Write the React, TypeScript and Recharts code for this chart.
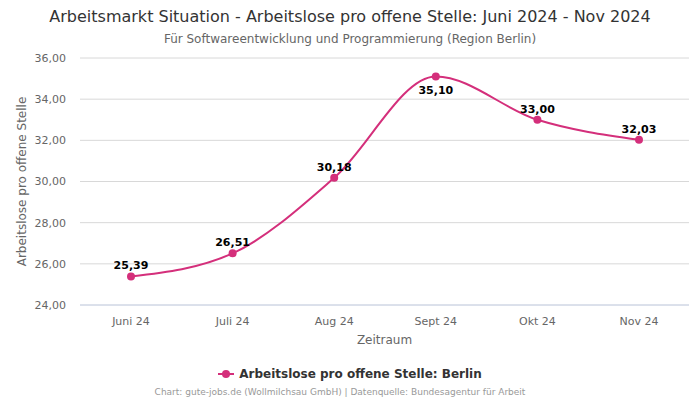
import { LineChart, Line, XAxis, YAxis, CartesianGrid, LabelList } from 'recharts'

const months = ['Juni 24', 'Juli 24', 'Aug 24', 'Sept 24', 'Okt 24', 'Nov 24']
const berlin = [25.39, 26.51, 30.18, 35.1, 33.0, 32.03]
const yTicks = [24, 26, 28, 30, 32, 34, 36]

const LINE = '#d42f7b'
const FONT = '"DejaVu Sans", sans-serif'

const data = months.map((m, i) => ({ month: m, value: berlin[i] }))

const fmt = (v: number) => v.toFixed(2).replace('.', ',')

function PointLabel(props: any) {
  const { x, y, value, index } = props
  const below = index === 3
  return (
    <text x={x} y={below ? y + 17 : y - 7} textAnchor="middle" fontSize={11} fontWeight="bold"
          fill="#000" fontFamily={FONT}>
      {fmt(value)}
    </text>
  )
}

export default function App() {
  return (
    <div style={{ position: 'absolute', left: 0, top: 0, width: 700, height: 400, background: '#fff' }}>
      <div style={{ position: 'absolute', top: 7, width: 700, textAlign: 'center', fontFamily: FONT,
                    fontSize: 16, color: '#333' }}>
        Arbeitsmarkt Situation - Arbeitslose pro offene Stelle: Juni 2024 - Nov 2024
      </div>
      <div style={{ position: 'absolute', top: 32, width: 700, textAlign: 'center', fontFamily: FONT,
                    fontSize: 12, color: '#666' }}>
        Für Softwareentwicklung und Programmierung (Region Berlin)
      </div>
      <div style={{ position: 'absolute', top: 367, width: 700, display: 'flex', justifyContent: 'center',
                    alignItems: 'center', fontFamily: FONT }}>
        <svg width={18} height={10}>
          <line x1={0} y1={5} x2={16} y2={5} stroke={LINE} strokeWidth={2} />
          <circle cx={8} cy={5} r={4} fill={LINE} />
        </svg>
        <span style={{ fontSize: 12, fontWeight: 'bold', color: '#333', marginLeft: 3 }}>
          Arbeitslose pro offene Stelle: Berlin
        </span>
      </div>
      <div style={{ position: 'absolute', top: 387, left: 0, width: 680, textAlign: 'center', fontFamily: FONT,
                    fontSize: 9, color: '#999' }}>
        Chart: gute-jobs.de (Wollmilchsau GmbH) | Datenquelle: Bundesagentur für Arbeit
      </div>
      <LineChart width={700} height={400} data={data}
                 margin={{ top: 58, right: 11, bottom: 50, left: 0 }}>
        <CartesianGrid vertical={false} stroke="#d8d8d8" />
        <XAxis dataKey="month" padding={{ left: 51, right: 50 }} height={45}
               tickLine={false} axisLine={{ stroke: '#ccd6eb' }}
               tick={{ fontSize: 11, fill: '#666', fontFamily: FONT }} tickMargin={6}
               label={{ value: 'Zeitraum', position: 'insideBottom', offset: 6,
                        style: { fontSize: 12, fill: '#666', fontFamily: FONT } }} />
        <YAxis width={80} domain={[24, 36]} ticks={yTicks} tickFormatter={fmt}
               tickLine={false} axisLine={false} tickMargin={8}
               tick={{ fontSize: 11, fill: '#666', fontFamily: FONT }}
               label={{ value: 'Arbeitslose pro offene Stelle', angle: -90, position: 'insideLeft',
                        offset: 22,
                        style: { fontSize: 12, fill: '#666', fontFamily: FONT, textAnchor: 'middle' } }} />
        <Line type="monotone" dataKey="value" stroke={LINE} strokeWidth={2}
              dot={{ r: 4, fill: LINE, stroke: LINE, strokeWidth: 0 }}
              activeDot={false} isAnimationActive={false}>
          <LabelList dataKey="value" content={<PointLabel />} />
        </Line>
      </LineChart>
    </div>
  )
}
